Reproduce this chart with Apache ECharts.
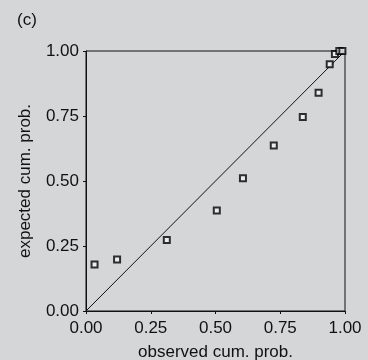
<!DOCTYPE html>
<html>
<head>
<meta charset="utf-8">
<script src="https://cdn.jsdelivr.net/npm/echarts@6/dist/echarts.min.js"></script>
<style>html,body{margin:0;padding:0;background:#d5d6d8;}#c{width:368px;height:360px;}</style>
</head>
<body>
<div id="c"></div>
<script>
const observed = [0.033, 0.120, 0.312, 0.505, 0.606, 0.725, 0.837, 0.898, 0.941, 0.961, 0.978, 0.990];
const expected = [0.179, 0.198, 0.273, 0.387, 0.511, 0.637, 0.746, 0.839, 0.949, 0.988, 1.000, 1.000];
const refLineX = [0, 1];
const refLineY = [0, 1];
const panelLabel = '(c)';
const xName = 'observed cum. prob.';
const yName = 'expected cum. prob.';

const font = 'Liberation Sans, Arial, sans-serif';
const chart = echarts.init(document.getElementById('c'));
const axisCommon = {
  type: 'value', min: 0, max: 1, interval: 0.25,
  nameLocation: 'middle',
  nameTextStyle: {fontFamily: font, fontSize: 17, color: '#111'},
  axisLine: {show: true, lineStyle: {color: '#111', width: 1}},
  axisTick: {show: true, length: 3, lineStyle: {color: '#111'}},
  axisLabel: {fontFamily: font, fontSize: 17, color: '#111', formatter: v => v.toFixed(2)},
  splitLine: {show: false}
};
chart.setOption({
  backgroundColor: '#d5d6d8',
  animation: false,
  title: {text: panelLabel, left: 12, top: 7, textStyle: {fontFamily: font, fontSize: 17, fontWeight: 'normal', color: '#111'}},
  grid: {left: 86, right: 23, top: 51, bottom: 49, show: true, borderColor: '#111', borderWidth: 1, backgroundColor: 'transparent', outerBoundsMode: 'none', containLabel: false},
  xAxis: Object.assign({}, axisCommon, {name: xName, nameGap: 33, axisLabel: Object.assign({}, axisCommon.axisLabel, {margin: 9})}),
  yAxis: Object.assign({}, axisCommon, {name: yName, nameGap: 52, axisLabel: Object.assign({}, axisCommon.axisLabel, {margin: 7})}),
  series: [
    {type: 'line', data: refLineX.map((x, i) => [x, refLineY[i]]), showSymbol: false, symbol: 'none',
     lineStyle: {color: '#111', width: 1}, silent: true, z: 1},
    {type: 'scatter', data: observed.map((x, i) => [x, expected[i]]), symbol: 'rect', symbolSize: 6,
     itemStyle: {color: '#f2f2f2', borderColor: '#000', borderWidth: 2}, z: 3}
  ]
});
</script>
</body>
</html>
